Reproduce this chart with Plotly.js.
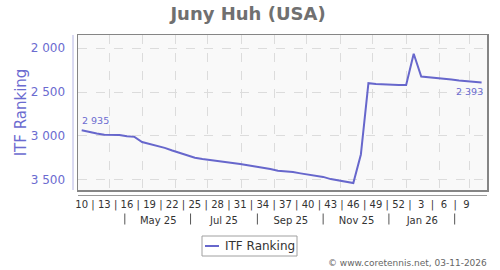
<!DOCTYPE html>
<html>
<head>
<meta charset="utf-8">
<script src="https://cdn.plot.ly/plotly-3.0.1.min.js"></script>
<style>html,body{margin:0;padding:0;background:#fff;}#chart{width:500px;height:270px;}</style>
</head>
<body>
<div id="chart"></div>
<script>
// ---- data ----
const playerName = 'Juny Huh (USA)';
const seriesName = 'ITF Ranking';
const dates = [
  '2025-03-06','2025-03-13','2025-03-20','2025-03-27','2025-04-03','2025-04-10','2025-04-17','2025-04-24',
  '2025-05-01','2025-05-08','2025-05-15','2025-05-22','2025-05-29','2025-06-05','2025-06-12','2025-06-19',
  '2025-06-26','2025-07-03','2025-07-10','2025-07-17','2025-07-24','2025-07-31','2025-08-07','2025-08-14',
  '2025-08-21','2025-08-28','2025-09-04','2025-09-11','2025-09-18','2025-09-25','2025-10-02','2025-10-09',
  '2025-10-16','2025-10-23','2025-10-30','2025-11-06','2025-11-13','2025-11-20','2025-11-27','2025-12-04',
  '2025-12-11','2025-12-18','2025-12-25','2026-01-01','2026-01-08','2026-01-15','2026-01-22','2026-01-29',
  '2026-02-05','2026-02-12','2026-02-19','2026-02-26','2026-03-05','2026-03-12'
];
const ranking = [
  2935, 2955, 2972, 2985, 2990, 2988, 3004, 3010, 3068, 3090,
  3110, 3135, 3165, 3195, 3222, 3248, 3262, 3272, 3282, 3297,
  3308, 3318, 3332, 3345, 3358, 3375, 3395, 3402, 3410, 3425,
  3440, 3455, 3465, 3490, 3505, 3515, 3535, 3210, 2400, 2410,
  2415, 2418, 2420, 2420, 2065, 2325, 2332, 2338, 2345, 2358,
  2370, 2378, 2385, 2393
];
const weekTickDates = ['2025-03-06','2025-03-27','2025-04-17','2025-05-08','2025-05-29','2025-06-19',
  '2025-07-10','2025-07-31','2025-08-21','2025-09-11','2025-10-02','2025-10-23','2025-11-13',
  '2025-12-04','2025-12-25','2026-01-15','2026-02-05','2026-02-26'];
const weekTickLabels = ['10','13','16','19','22','25','28','31','34','37','40','43','46','49','52','3','6','9'];
const monthLabelDates = ['2025-05-16','2025-07-16','2025-09-16','2025-11-16','2026-01-16'];
const monthLabels = ['May 25','Jul 25','Sep 25','Nov 25','Jan 26'];
const monthSepDates = ['2025-04-15','2025-06-15','2025-08-16','2025-10-16','2025-12-16','2026-02-15'];
const monthGridDates = ['2025-04-01','2025-05-01','2025-06-01','2025-07-01','2025-08-01','2025-09-01',
  '2025-10-01','2025-11-01','2025-12-01','2026-01-01','2026-02-01','2026-03-01'];
const yTickVals = [2000, 2500, 3000, 3500];
const yTickText = ['2 000', '2 500', '3 000', '3 500'];
const footer = '\u00a9 www.coretennis.net, 03-11-2026';

// ---- helpers ----
function fmt(v){ return String(v).replace(/\B(?=(\d{3})+(?!\d))/g, ' '); }
function mid(a, b){ const t = (new Date(a+'T00:00:00Z').getTime() + new Date(b+'T00:00:00Z').getTime())/2; return new Date(t).toISOString().slice(0,16).replace('T',' '); }
const sepWeekDates = [];
for (let i = 0; i < weekTickDates.length - 1; i++) sepWeekDates.push(mid(weekTickDates[i], weekTickDates[i+1]));

const xRange = ['2025-03-02 14:00', '2026-03-17 00:00'];
const lineColor = '#6767cc';
const purple = '#6b6bd0';
const F = 'DejaVu Sans, Verdana, sans-serif';

// plot area pixel geometry: left 78, right 487, top 35, bottom 190 ; paper area 35..270
const H = 235, W = 409;
const py = y => (270 - y) / H;
const px = x => (x - 78) / W;

const traces = [
  {x: dates, y: ranking, type: 'scatter', mode: 'lines', name: seriesName,
   line: {color: lineColor, width: 2}, hoverinfo: 'x+y', showlegend: false},
  {x: dates, y: ranking, xaxis: 'x2', type: 'scatter', mode: 'lines', opacity: 0,
   hoverinfo: 'skip', showlegend: false},
  {x: dates, y: ranking, xaxis: 'x3', type: 'scatter', mode: 'lines', opacity: 0,
   hoverinfo: 'skip', showlegend: false}
];

const sepShapes = monthSepDates.map(d => ({
  type: 'line', xref: 'x', yref: 'paper', x0: d, x1: d, y0: py(224.5), y1: py(213.5),
  line: {color: '#555555', width: 1}
}));

const layout = {
  width: 500, height: 270,
  margin: {l: 78, r: 13, t: 35, b: 0, pad: 0},
  paper_bgcolor: '#ffffff',
  plot_bgcolor: '#f9f9f9',
  font: {family: F, color: '#333'},
  showlegend: false,
  title: {text: '<b>' + playerName + '</b>', x: 0.496, xref: 'container', xanchor: 'center',
          y: 1 - 14/270, yref: 'container', yanchor: 'middle',
          font: {family: F, size: 18, color: '#707070'}},
  xaxis: {type: 'date', range: xRange, domain: [0, 1], anchor: 'y',
          tickmode: 'array', tickvals: monthGridDates, showticklabels: false, ticks: '',
          showgrid: true, gridcolor: '#dcdcdc', griddash: 'dash', gridwidth: 1,
          showline: true, mirror: true, linecolor: '#858585', linewidth: 1.5, zeroline: false, fixedrange: true},
  xaxis2: {type: 'date', range: xRange, overlaying: 'x', anchor: 'free', position: py(194.5),
           tickmode: 'array', tickvals: weekTickDates.concat(sepWeekDates),
           ticktext: weekTickLabels.concat(sepWeekDates.map(() => '|')),
           ticks: '', showgrid: false, zeroline: false, showline: true, linecolor: '#9a9a9a', linewidth: 1,
           tickfont: {family: F, size: 10, color: '#333'}, fixedrange: true},
  xaxis3: {type: 'date', range: xRange, overlaying: 'x', anchor: 'free', position: py(213),
           tickmode: 'array', tickvals: monthLabelDates, ticktext: monthLabels,
           ticks: '', showgrid: false, zeroline: false, showline: false,
           tickfont: {family: F, size: 10, color: '#333'}, fixedrange: true},
  yaxis: {range: [3614, 1852], domain: [py(190), 1], anchor: 'x',
          tickmode: 'array', tickvals: yTickVals, ticktext: yTickText,
          ticks: 'outside', ticklen: 9, tickcolor: 'rgba(0,0,0,0)',
          tickfont: {family: F, size: 12, color: purple},
          showgrid: true, gridcolor: '#dcdcdc', griddash: 'dash', gridwidth: 1,
          showline: true, mirror: true, linecolor: '#858585', linewidth: 1.5, zeroline: false,
          title: {text: seriesName, font: {family: F, size: 15, color: purple}, standoff: 0},
          fixedrange: true},
  shapes: [
    {type: 'line', xref: 'paper', yref: 'paper', x0: px(73), x1: px(73), y0: py(190), y1: py(35),
     line: {color: '#b4b4e4', width: 1}},
    {type: 'rect', xref: 'paper', yref: 'paper', x0: px(202), x1: px(297), y0: py(256), y1: py(236),
     line: {color: '#a0a0a0', width: 1}, fillcolor: 'rgba(255,255,255,0)'},
    {type: 'line', xref: 'paper', yref: 'paper', x0: px(205), x1: px(219), y0: py(246), y1: py(246),
     line: {color: lineColor, width: 2}}
  ].concat(sepShapes),
  annotations: [
    {x: dates[0], y: ranking[0], xref: 'x', yref: 'y', text: fmt(ranking[0]), showarrow: false,
     xanchor: 'left', yanchor: 'bottom', xshift: -2, yshift: 2, font: {family: F, size: 9.5, color: purple}},
    {x: dates[dates.length-1], y: ranking[ranking.length-1], xref: 'x', yref: 'y',
     text: fmt(ranking[ranking.length-1]), showarrow: false,
     xanchor: 'right', yanchor: 'top', xshift: 3, yshift: -1, font: {family: F, size: 9.5, color: purple}},
    {x: px(223), y: py(246), xref: 'paper', yref: 'paper', text: seriesName, showarrow: false,
     xanchor: 'left', yanchor: 'middle', font: {family: F, size: 12, color: '#333'}},
    {x: px(489), y: py(263), xref: 'paper', yref: 'paper', text: footer, showarrow: false,
     xanchor: 'right', yanchor: 'middle', font: {family: F, size: 9, color: '#666'}}
  ]
};

Plotly.newPlot('chart', traces, layout, {displayModeBar: false, staticPlot: true});
</script>
</body>
</html>
